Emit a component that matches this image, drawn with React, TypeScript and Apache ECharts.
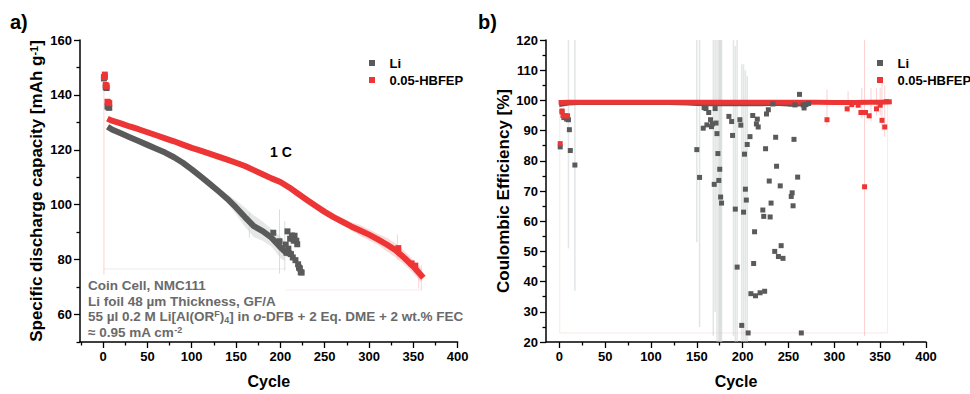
import React, { useEffect, useRef } from 'react';
import * as echarts from 'echarts';

const FONT = '"Liberation Sans", Arial, Helvetica, sans-serif';
const GRAY = '#5a5a5a';
const RED = '#ee3535';
const GRAY_BAND = 'rgba(200,205,205,0.45)';
const RED_BAND = 'rgba(245,150,150,0.35)';

// ---------- a) capacity ----------
const capXTicks = [0, 50, 100, 150, 200, 250, 300, 350, 400];
const capXMinor = [-25, 25, 75, 125, 175, 225, 275, 325, 375];
const capYTicks = [60, 80, 100, 120, 140, 160];
const capYMinor = [50, 70, 90, 110, 130, 150];

const liEarlyCycles = [1, 2, 3, 4, 5, 6, 7];
const liEarlyCap = [146.0, 146.6, 142.8, 142.5, 135.8, 135.5, 135.3];
const hbEarlyCycles = [1, 2, 3, 4, 5, 6, 7];
const hbEarlyCap = [146.5, 147.4, 143.6, 143.2, 137.5, 137.2, 137.0];

const liCapCycles = [8, 10, 20, 30, 40, 50, 60, 70, 80, 90, 100, 110, 120, 130, 140, 150, 160, 170, 180, 190, 200, 205];
const liCap = [127.8, 127.4, 126.0, 124.6, 123.2, 121.8, 120.4, 119.0, 117.3, 115.3, 112.9, 110.3, 107.7, 105.0, 102.2, 99.0, 95.5, 92.2, 90.4, 88.0, 84.5, 83.0];
const liCapErr = [0.7, 0.7, 0.7, 0.7, 0.7, 0.7, 0.7, 0.7, 0.8, 0.8, 0.9, 0.9, 1.0, 1.2, 1.6, 2.5, 3.5, 4.0, 3.5, 3.2, 4.0, 3.5];

const liTailCycles = [192, 199, 206, 207, 208, 209, 210, 211, 212, 213, 214, 215, 216, 217, 218, 219, 220, 221, 222, 223, 224];
const liTailCap = [89.8, 86.7, 85.5, 82.5, 90.3, 84.0, 82.3, 87.6, 82.0, 88.8, 80.8, 86.9, 88.7, 79.8, 86.9, 85.6, 78.3, 77.1, 76.8, 75.4, 75.3];

const hbCapCycles = [8, 10, 20, 30, 40, 50, 60, 70, 80, 90, 100, 110, 120, 130, 140, 150, 160, 170, 180, 190, 200, 210, 220, 230, 240, 250, 260, 270, 280, 290, 300, 310, 320, 330, 340, 350, 359];
const hbCap = [130.9, 130.6, 129.6, 128.5, 127.5, 126.4, 125.3, 124.2, 123.1, 121.9, 120.7, 119.7, 118.6, 117.5, 116.4, 115.3, 114.1, 112.6, 111.1, 109.6, 108.3, 106.3, 104.0, 101.7, 99.5, 97.4, 95.5, 93.8, 92.1, 90.6, 89.1, 87.4, 85.5, 83.4, 80.6, 77.5, 74.2];
const hbCapErr = [1.0, 1.0, 1.0, 1.0, 1.0, 1.0, 1.0, 1.0, 1.0, 1.0, 1.0, 1.0, 1.0, 1.0, 1.0, 1.0, 1.0, 1.0, 1.0, 1.0, 1.2, 1.2, 1.2, 1.2, 1.2, 1.2, 1.2, 1.2, 1.5, 2.0, 2.0, 2.0, 2.5, 2.5, 2.5, 2.5, 2.5];

const hbTailCycles = [333, 348, 352];
const hbTailCap = [84.2, 78.6, 77.8];

// error spikes [cycle, low, high]
const capLiSpikes = [[199, 74.9, 98.3], [165, 88, 97], [205, 76, 94]];
const capHbSpikes = [[1, 74.4, 147.5], [332, 80, 89.2], [356, 69.5, 79], [359, 69, 78]];
// faint frame lines of the filled error areas [cycle, value]
const capLiFrame = [[1, 76.6], [205, 76.6]];
const capHbFrame = [[207, 69.0], [359, 69.0]];

// ---------- b) coulombic efficiency ----------
const ceXTicks = [0, 50, 100, 150, 200, 250, 300, 350, 400];
const ceXMinor = [25, 75, 125, 175, 225, 275, 325, 375];
const ceYTicks = [20, 30, 40, 50, 60, 70, 80, 90, 100, 110, 120];
const ceYMinor = [25, 35, 45, 55, 65, 75, 85, 95, 105, 115];

const liCELineCycles = [2, 10, 20, 40, 60, 80, 100, 120, 140, 150, 160, 170, 180, 190, 200, 210, 220, 230, 240, 250, 260, 272];
const liCELine = [98.6, 99.0, 99.1, 99.1, 99.1, 99.1, 99.1, 99.1, 99.0, 98.8, 98.7, 98.7, 98.7, 98.7, 98.7, 98.7, 98.7, 98.8, 98.8, 98.6, 98.6, 98.8];

const liCEPoints = [
  [1, 84.6], [3, 96.2], [5, 94.3], [8, 93.8], [10, 93.6], [11, 90.3], [12, 83.4], [17, 78.6],
  [150, 83.7], [153, 74.5], [157, 90.8], [158, 97.6], [160, 97.3], [161, 91.9], [163, 96.0], [165, 93.6], [166, 91.3], [167, 92.2],
  [169, 72.2], [170, 97.3], [171, 92.5], [172, 89.0], [173, 82.4], [174, 73.5], [175, 77.2], [176, 68.0], [177, 66.0],
  [185, 94.7], [188, 93.0], [189, 88.4], [192, 64.0], [194, 44.8], [197, 93.6], [198, 91.8], [199, 25.5],
  [201, 63.0], [202, 82.2], [203, 70.6], [204, 67.0], [205, 85.4], [206, 23.0], [208, 88.0], [209, 36.0],
  [211, 95.0], [212, 46.0], [213, 56.5], [214, 35.3], [215, 92.2], [216, 93.8], [217, 91.2], [219, 36.3],
  [222, 63.7], [223, 61.6], [224, 36.8], [225, 84.0], [226, 95.5], [228, 96.9], [229, 73.3], [230, 61.4], [231, 66.0],
  [233, 98.8], [235, 50.0], [236, 87.8], [237, 78.2], [239, 48.3], [241, 71.7], [242, 51.9], [244, 47.7],
  [253, 68.2], [254, 69.4], [255, 65.1], [256, 87.1], [257, 98.5], [260, 74.6], [262, 102.0], [264, 23.0],
  [266, 98.5], [267, 97.5], [269, 98.6], [272, 99.0]
];

const hbCELineCycles = [2, 10, 20, 40, 60, 80, 100, 120, 140, 160, 180, 200, 220, 240, 260, 280, 300, 320, 340, 350, 360];
const hbCELine = [99.3, 99.4, 99.4, 99.4, 99.4, 99.4, 99.4, 99.4, 99.4, 99.4, 99.4, 99.4, 99.4, 99.4, 99.4, 99.4, 99.3, 99.3, 99.4, 99.4, 99.5];

const hbCEPoints = [
  [1, 85.7], [3, 96.5], [4, 95.0], [5, 94.9], [7, 94.9], [9, 94.9],
  [292, 93.6], [314, 97.2], [319, 98.6], [326, 98.4], [329, 96.0], [333, 71.4], [334, 96.0], [338, 94.9],
  [346, 97.2], [350, 98.4], [352, 93.4], [355, 91.2], [357, 99.6]
];

const ceLiSpikes = [[10, 51, 120], [17, 37, 120], [150, 53, 120], [153, 25, 120], [168, 22, 120], [170, 30, 120], [172, 20, 120], [174, 20, 120], [175, 20, 120], [176, 20, 120], [177, 20, 120], [190, 22, 120], [192, 20, 118], [194, 20, 120], [199, 20, 112], [201, 20, 112], [203, 20, 110], [205, 20, 108]];
const ceHbSpikes = [[292, 91.6, 103.6], [315, 96, 103], [330, 94, 104], [333, 22, 120], [340, 93, 104], [346, 95, 104], [350, 95, 104], [352, 90, 106], [355, 88, 105]];
const ceHbFrame = [[0.5, 100], [0.5, 23], [358, 23], [358, 100]];

const tickStyle = { color: '#000', width: 1.3 };
const labelStyle = { fontSize: 13, fontWeight: 'bold' as const, color: '#000', fontFamily: FONT };
const nameStyle = { fontSize: 16, fontWeight: 'bold' as const, color: '#000', fontFamily: FONT };

function xMain(gridIndex: number, min: number, ticks: number[]) {
  return {
    type: 'value', gridIndex, min, max: 400, position: 'bottom',
    name: 'Cycle', nameLocation: 'middle', nameGap: 31, nameTextStyle: nameStyle,
    axisLine: { show: true, onZero: false, lineStyle: { color: '#000', width: 1.5 } },
    axisTick: { show: true, length: 6, lineStyle: tickStyle, customValues: ticks },
    axisLabel: { show: true, margin: 8, customValues: ticks, ...labelStyle },
    splitLine: { show: false },
  };
}
function xMinor(gridIndex: number, min: number, ticks: number[]) {
  return {
    type: 'value', gridIndex, min, max: 400, position: 'bottom',
    axisLine: { show: false, onZero: false },
    axisTick: { show: true, length: 3.5, lineStyle: tickStyle, customValues: ticks },
    axisLabel: { show: false },
    splitLine: { show: false },
  };
}
function yMain(gridIndex: number, min: number, max: number, ticks: number[], name: string, gap: number, rich: any) {
  return {
    type: 'value', gridIndex, min, max, position: 'left',
    name, nameLocation: 'middle', nameGap: gap, nameTextStyle: { ...nameStyle, fontSize: 17, rich },
    axisLine: { show: true, onZero: false, lineStyle: { color: '#000', width: 1.5 } },
    axisTick: { show: true, length: 6, lineStyle: tickStyle, customValues: ticks },
    axisLabel: { show: true, margin: 8, customValues: ticks, ...labelStyle },
    splitLine: { show: false },
  };
}
function yMinor(gridIndex: number, min: number, max: number, ticks: number[]) {
  return {
    type: 'value', gridIndex, min, max, position: 'left',
    axisLine: { show: false, onZero: false },
    axisTick: { show: true, length: 3.5, lineStyle: tickStyle, customValues: ticks },
    axisLabel: { show: false },
    splitLine: { show: false },
  };
}

function band(xi: number, yi: number, cycles: number[], vals: number[], errs: number[], color: string) {
  return {
    type: 'custom', xAxisIndex: xi, yAxisIndex: yi, silent: true, z: 1,
    data: [[cycles[0], vals[0]]],
    renderItem: (_p: any, api: any) => {
      const up = cycles.map((c, i) => api.coord([c, vals[i] + errs[i]]));
      const lo = cycles.map((c, i) => api.coord([c, vals[i] - errs[i]])).reverse();
      return { type: 'polygon', shape: { points: up.concat(lo) }, style: { fill: color } };
    },
  };
}
function spikes(xi: number, yi: number, data: number[][], color: string, width: number) {
  return {
    type: 'custom', xAxisIndex: xi, yAxisIndex: yi, silent: true, z: 1,
    data, encode: { x: 0, y: [1, 2] },
    renderItem: (_p: any, api: any) => {
      const a = api.coord([api.value(0), api.value(1)]);
      const b = api.coord([api.value(0), api.value(2)]);
      return { type: 'line', shape: { x1: a[0], y1: a[1], x2: b[0], y2: b[1] }, style: { stroke: color, lineWidth: width } };
    },
  };
}
function pairs(xs: number[], ys: number[]) {
  return xs.map((x, i) => [x, ys[i]]);
}
function lineSeries(xi: number, yi: number, name: string, data: number[][], color: string, width: number, z = 2) {
  return {
    type: 'line', name, xAxisIndex: xi, yAxisIndex: yi, data, showSymbol: false, symbol: 'none', silent: true,
    lineStyle: { color, width, cap: 'square', join: 'round' }, itemStyle: { color }, z,
  };
}
function scatterSeries(xi: number, yi: number, name: string, data: number[][], color: string, size: number) {
  return {
    type: 'scatter', name, xAxisIndex: xi, yAxisIndex: yi, data, symbol: 'rect', symbolSize: size, silent: true,
    itemStyle: { color, opacity: 1 }, z: 3,
  };
}

const ICON = 'path://M0,0H10V10H0Z';
function legend(left: number) {
  return {
    left, top: 51, orient: 'vertical', itemWidth: 25, itemHeight: 6, itemGap: 3, selectedMode: false,
    data: [{ name: 'Li', icon: ICON }, { name: '0.05-HBFEP', icon: ICON }],
    textStyle: { fontSize: 13, fontWeight: 'bold', color: '#000', fontFamily: FONT, lineHeight: 14 },
  };
}

const supRich = { sup: { fontSize: 11, fontWeight: 'bold', fontFamily: FONT, color: '#000', verticalAlign: 'top' } };

const annoColor = '#6a6a6a';
const annoRich = {
  sup: { fontSize: 9, fontWeight: 'bold', fontFamily: FONT, fill: annoColor, color: annoColor, verticalAlign: 'top' },
  sub: { fontSize: 9, fontWeight: 'bold', fontFamily: FONT, fill: annoColor, color: annoColor, verticalAlign: 'bottom' },
  it: { fontSize: 13.5, fontWeight: 'bold', fontStyle: 'italic', fontFamily: FONT, fill: annoColor, color: annoColor },
};
function anno(text: string, y: number) {
  return {
    type: 'text', left: 88, top: y, silent: true, z: 10,
    style: { text, fill: annoColor, fontSize: 13.5, fontWeight: 'bold', fontFamily: FONT, lineHeight: 15, rich: annoRich },
  };
}

const option: any = {
  animation: false,
  backgroundColor: '#fff',
  grid: [
    { left: 80, top: 40, width: 377.7, height: 306 },
    { left: 546, top: 40, width: 380, height: 306 },
  ],
  xAxis: [
    xMain(0, -26, capXTicks), xMinor(0, -26, capXMinor),
    xMain(1, -14.5, ceXTicks), xMinor(1, -14.5, ceXMinor),
  ],
  yAxis: [
    yMain(0, 50, 160, capYTicks, 'Specific discharge capacity [mAh g{sup|-1}]', 35, supRich), yMinor(0, 50, 160, capYMinor),
    yMain(1, 20, 120, ceYTicks, 'Coulombic Efficiency [%]', 33, supRich), yMinor(1, 20, 120, ceYMinor),
  ],
  legend: [legend(364), legend(872)],
  graphic: [
    { type: 'text', left: 10, top: 12, style: { text: 'a)', fontSize: 20, fontWeight: 'bold', fontFamily: FONT, fill: '#000' } },
    { type: 'text', left: 478, top: 12, style: { text: 'b)', fontSize: 20, fontWeight: 'bold', fontFamily: FONT, fill: '#000' } },
    { type: 'text', left: 270, top: 145, style: { text: '1 C', fontSize: 14, fontWeight: 'bold', fontFamily: FONT, fill: '#000' } },
    anno('Coin Cell, NMC111', 278),
    anno('Li foil 48 µm Thickness, GF/A', 294),
    anno('55 µl 0.2 M Li[Al(OR{sup|F}){sub|4}] in {it|o}-DFB + 2 Eq. DME + 2 wt.% FEC', 309),
    anno('≈ 0.95 mA cm{sup|-2}', 325),
  ],
  series: [
    // a)
    lineSeries(0, 0, 'Li-frame', capLiFrame, 'rgba(215,218,218,0.5)', 1, 0),
    lineSeries(0, 0, 'HB-frame', capHbFrame, 'rgba(245,190,190,0.35)', 1, 0),
    band(0, 0, liCapCycles, liCap, liCapErr, GRAY_BAND),
    band(0, 0, hbCapCycles, hbCap, hbCapErr, RED_BAND),
    spikes(0, 0, capLiSpikes, 'rgba(200,205,205,0.7)', 1),
    spikes(0, 0, capHbSpikes, 'rgba(245,170,170,0.5)', 1),
    lineSeries(0, 0, 'Li-1C', pairs(liCapCycles, liCap), GRAY, 6),
    scatterSeries(0, 0, 'Li', pairs(liEarlyCycles, liEarlyCap).concat(pairs(liTailCycles, liTailCap)), GRAY, 6),
    lineSeries(0, 0, 'HB-1C', pairs(hbCapCycles, hbCap), RED, 6),
    scatterSeries(0, 0, '0.05-HBFEP', pairs(hbEarlyCycles, hbEarlyCap).concat(pairs(hbTailCycles, hbTailCap)), RED, 6),
    // b)
    lineSeries(2, 2, 'HB-frame-ce', ceHbFrame, 'rgba(245,190,190,0.35)', 1, 0),
    spikes(2, 2, ceLiSpikes, 'rgba(200,205,205,0.5)', 1.5),
    spikes(2, 2, ceHbSpikes, 'rgba(245,150,150,0.45)', 1),
    lineSeries(2, 2, 'Li-CE', pairs(liCELineCycles, liCELine), GRAY, 4),
    scatterSeries(2, 2, 'Li', liCEPoints, GRAY, 5),
    lineSeries(2, 2, 'HB-CE', pairs(hbCELineCycles, hbCELine), RED, 5),
    scatterSeries(2, 2, '0.05-HBFEP', hbCEPoints, RED, 5),
  ],
};

export default function App() {
  const ref = useRef<HTMLDivElement>(null);
  useEffect(() => {
    const chart = echarts.init(ref.current!, null, { renderer: 'svg' });
    chart.setOption(option);
    return () => chart.dispose();
  }, []);
  return (
    <div
      ref={ref}
      style={{ position: 'fixed', left: 0, top: 0, width: 970, height: 394, background: '#fff' }}
    />
  );
}
